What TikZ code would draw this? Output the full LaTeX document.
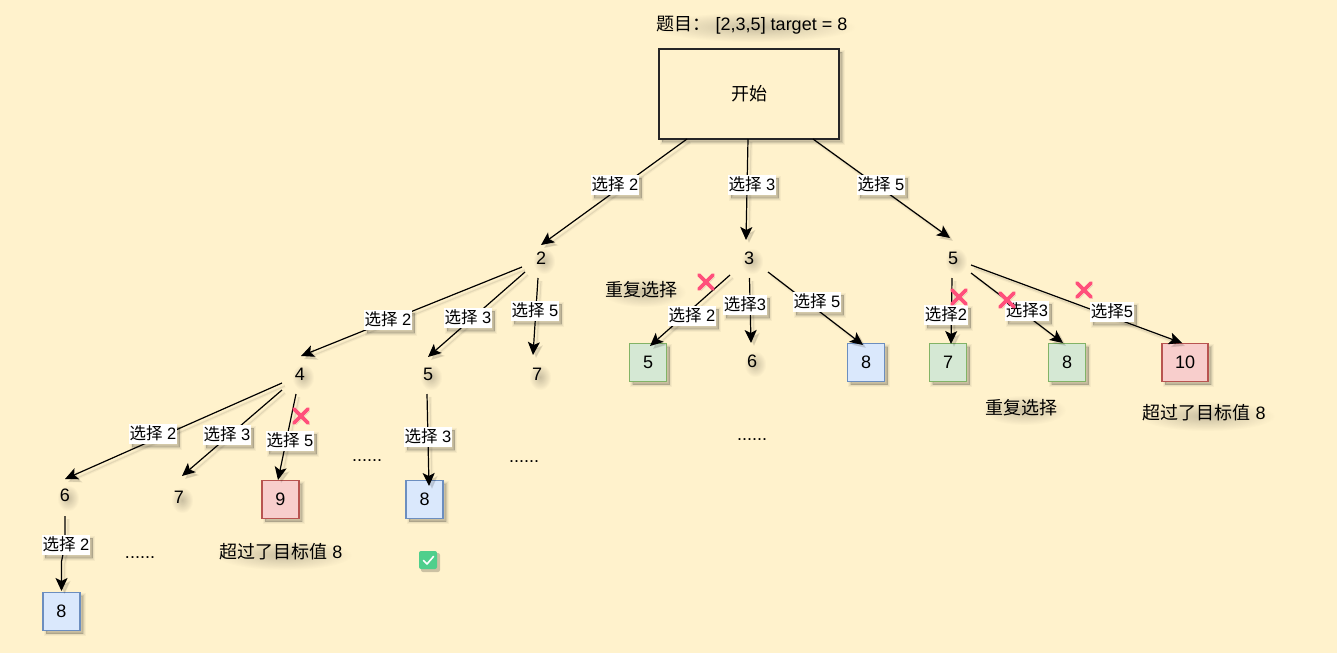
\documentclass[tikz,border=0pt]{standalone}
\usepackage{fontspec}
\setmainfont{Liberation Sans}
\newfontfamily\cjk{Noto Sans CJK SC}
\usetikzlibrary{arrows.meta,calc,fadings}
\definecolor{bgc}{HTML}{FFF2CC}
\definecolor{gf}{HTML}{D5E8D4}\definecolor{gd}{HTML}{82B366}
\definecolor{bf}{HTML}{DAE8FC}\definecolor{bd}{HTML}{6C8EBF}
\definecolor{rf}{HTML}{F8CECC}\definecolor{rd}{HTML}{B85450}
\definecolor{xc}{HTML}{FF4F7B}
\definecolor{okc}{HTML}{4FCF8C}
\tikzfading[name=softblob,inner color=transparent!50,outer color=transparent!100]
\newcommand{\X}{{\cjk 选择}}
\tikzset{
  x=1pt,y=-1pt,
  every node/.style={font=\fontsize{18}{21}\selectfont,text=black},
  boxshadow/.style={
    preaction={draw=black,line width=5,fill=black,opacity=.035,transform canvas={shift={(3,3)}}},
    preaction={draw=black,line width=3,fill=black,opacity=.05,transform canvas={shift={(3,3)}}},
    preaction={draw=black,line width=1,fill=black,opacity=.09,transform canvas={shift={(3,3)}}}},
  txt/.style={inner sep=0,minimum width=40,minimum height=36},
  free/.style={inner sep=0},
  dots/.style={free,yshift=-4},
  sq/.style={boxshadow,rectangle,line width=1.7,inner sep=0,minimum width=37,minimum height=38},
  gsq/.style={sq,draw=gd,fill=gf},
  bsq/.style={sq,draw=bd,fill=bf},
  rsq/.style={sq,draw=rd,fill=rf},
  lab/.style={boxshadow,fill=white,font=\fontsize{16.5}{19}\selectfont,inner xsep=0.5,inner ysep=0,minimum height=20,text height=13,text depth=2},
  edge/.style={line width=1.2,black,-{Stealth[length=13,width=12,inset=3]},
    preaction={draw=black,line width=3.5,opacity=.035,transform canvas={shift={(3,3)}}},
    preaction={draw=black,line width=1.2,opacity=.07,transform canvas={shift={(3,3)}}}},
  cross/.style={xc,line width=3.6,line cap=round,
    preaction={draw=black,opacity=.12,transform canvas={shift={(2,2)}}}},
  blob/.style={black,opacity=.42,path fading=softblob,fit fading=true}
}
\newcommand{\Blob}[4]{\fill[blob] ({#1+3-#3/2-6},{#2+3-#4/2-6}) rectangle ({#1+3+#3/2+6},{#2+3+#4/2+6});}
\newcommand{\Cross}[2]{\draw[cross] ({#1-7},{#2-7}) -- ({#1+7},{#2+7}) ({#1+7},{#2-7}) -- ({#1-7},{#2+7});}
\begin{document}
\begin{tikzpicture}
\useasboundingbox[fill=bgc] (0,0) rectangle (1337,653);
% soft text shadows
\Blob{752}{24}{190}{18}\Blob{749}{92}{38}{18}
\Blob{541}{258}{10}{14}\Blob{749}{258}{10}{14}\Blob{953}{258}{10}{14}
\Blob{300}{374}{10}{14}\Blob{428}{374}{10}{14}\Blob{537}{374}{10}{14}
\Blob{752}{361}{10}{14}\Blob{65}{495}{10}{14}\Blob{179}{497}{10}{14}
\Blob{641}{289}{72}{18}\Blob{1021}{407}{72}{18}\Blob{281}{552}{124}{18}\Blob{1204}{413}{124}{18}
% title and root
\node[free] (title) at (752,25) {{\cjk 题目：}\hspace{5pt}[2,3,5] target = 8};
\node[boxshadow,draw=black!85,fill=bgc,line width=1.3,minimum width=180,minimum height=90,inner sep=0] (root) at (749,94) {{\cjk 开始}};
% value nodes
\node[txt] (n2) at (541,258) {2};
\node[txt] (n3) at (749,258) {3};
\node[txt] (n5) at (953,258) {5};
\node[txt] (n4) at (300,374) {4};
\node[txt] (n5b) at (428,374) {5};
\node[txt] (n7) at (537,374) {7};
\node[txt] (n6b) at (752,361) {6};
\node[txt] (n6) at (65,495) {6};
\node[txt] (n7b) at (179,497) {7};
\node[gsq] (g5) at (648,362.5) {5};
\node[bsq] (b8a) at (866,362.5) {8};
\node[gsq] (g7) at (948,362.5) {7};
\node[gsq] (g8) at (1067,362.5) {8};
\node[rsq,minimum width=46] (r10) at (1185,362.5) {10};
\node[rsq] (r9) at (280.5,499.5) {9};
\node[bsq] (b8b) at (424.5,499.5) {8};
\node[bsq] (b8c) at (61.5,611.5) {8};
% free texts
\node[dots] (d1) at (367,457) {......};
\node[dots] (d2) at (524,458) {......};
\node[dots] (d3) at (752,436) {......};
\node[dots] (d4) at (140,554) {......};
\node[free] (t1) at (641,290) {{\cjk 重复选择}};
\node[free] (t2) at (1021,408) {{\cjk 重复选择}};
\node[free] (t3) at (281,552) {{\cjk 超过了目标值} 8};
\node[free] (t4) at (1204,413) {{\cjk 超过了目标值} 8};
% connectors
\draw[edge] ($(root)+(-62,45)$) -- ($(n2)+(0,-13)$);
\draw[edge] ($(root)+(-1,45)$) -- ($(n3)+(-3,-18)$);
\draw[edge] ($(root)+(64,45)$) -- ($(n5)+(-3,-20)$);
\draw[edge] ($(n2)+(-19,9)$) -- ($(n4)+(1,-18)$);
\draw[edge] ($(n2)+(-16,14)$) -- ($(n5b)+(0,-17)$);
\draw[edge] ($(n2)+(-3,20)$) -- ($(n7)+(-4,-19)$);
\draw[edge] ($(n3)+(-19,17)$) -- ($(g5)+(2,-16.5)$);
\draw[edge] ($(n3)+(0.5,20)$) -- ($(n6b)+(-1,-18)$);
\draw[edge] ($(n3)+(19,14)$) -- ($(b8a)+(-3,-17.5)$);
\draw[edge] ($(n5)+(-1,20)$) -- ($(g7)+(3,-18.5)$);
\draw[edge] ($(n5)+(18,15)$) -- ($(g8)+(-4,-19.5)$);
\draw[edge] ($(n5)+(18,7)$) -- ($(r10)+(-3,-19.5)$);
\draw[edge] ($(n4)+(-18,9)$) -- ($(n6)+(0,-16)$);
\draw[edge] ($(n4)+(-18,16)$) -- ($(n7b)+(3,-21)$);
\draw[edge] ($(n4)+(-4,20)$) -- ($(r9)+(-2.5,-19.5)$);
\draw[edge] ($(n5b)+(-1,20)$) -- ($(b8b)+(4.5,-13.5)$);
\draw[edge] ($(n6)+(0,21)$) -- ($(n6)+(0,50)$) -- ($(b8c)+(0,-50)$) -- ($(b8c)+(0,-20.5)$);
% connector labels
\node[lab] (l1) at (615,185) {\X{} 2};
\node[lab] (l2) at (752,185) {\X{} 3};
\node[lab] (l3) at (881,185) {\X{} 5};
\node[lab] (l4) at (388,320) {\X{} 2};
\node[lab] (l5) at (468,318) {\X{} 3};
\node[lab] (l6) at (535,311) {\X{} 5};
\node[lab] (l7) at (692,316) {\X{} 2};
\node[lab] (l8) at (745,305) {\X{}3};
\node[lab] (l9) at (817,302) {\X{} 5};
\node[lab] (l10) at (946,315) {\X{}2};
\node[lab] (l11) at (1027,311) {\X{}3};
\node[lab] (l12) at (1112,312) {\X{}5};
\node[lab] (l13) at (153,434) {\X{} 2};
\node[lab] (l14) at (227,435) {\X{} 3};
\node[lab] (l15) at (290,441) {\X{} 5};
\node[lab] (l16) at (428,437) {\X{} 3};
\node[lab] (l17) at (66,545) {\X{} 2};
% marks
\Cross{706}{282}\Cross{301}{416}\Cross{959}{297}\Cross{1007}{300}\Cross{1084}{290}
% check icon
\fill[black,opacity=.2,rounded corners=2] (421,553) rectangle (440,572);
\fill[fill=okc,rounded corners=2] (419,551) rectangle (437,569);
\draw[white,line width=1.6,line cap=round,line join=round] (423.5,560.5) -- (427,564) -- (433.5,556.5);
\end{tikzpicture}
\end{document}
